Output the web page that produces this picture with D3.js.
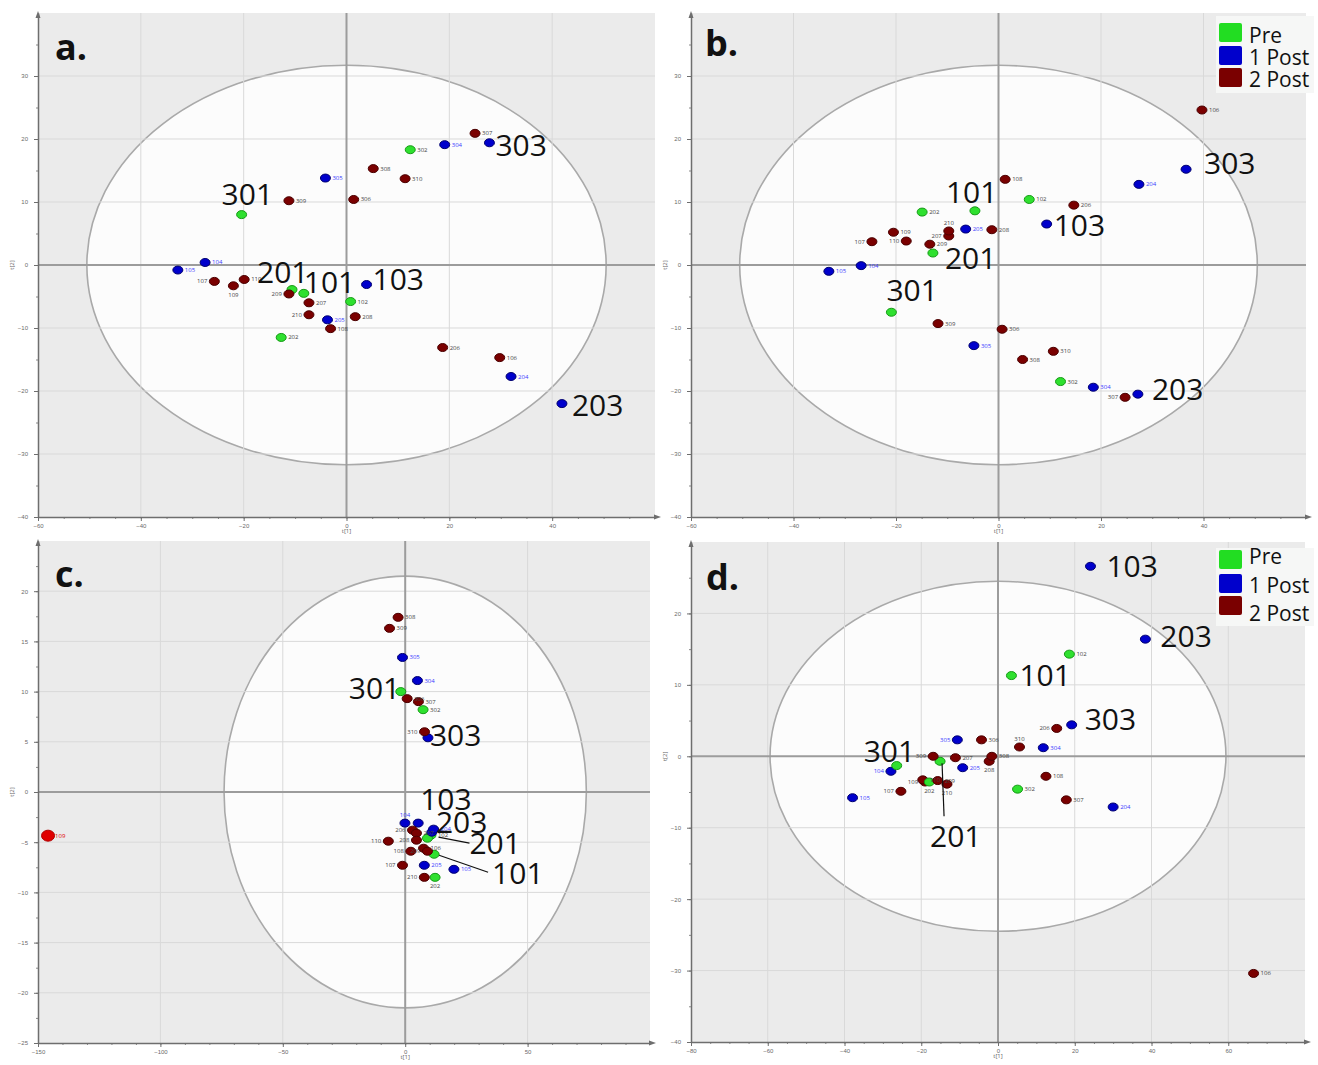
<!DOCTYPE html>
<html>
<head>
	<meta charset="utf-8">
	<title>PCA score plots a-d</title>
	<style>
		body{ margin:0; background:#fff; }
		svg{ display:block; font-family:"Open Sans", sans-serif; }
		.axis path, .axis line{ stroke:#6e6e6e; }
		.axis text{ fill:#6a6a6a; font-size:6px; }
		.minor path{ stroke:none; }
		.minor line{ stroke:#8a8a8a; }
	</style>
</head>
<body>
<script src="https://cdnjs.cloudflare.com/ajax/libs/d3/7.8.5/d3.min.js"></script>
<script>
// samples, same order in every panel
var sampleIds = ["101","102","103","104","105","106","107","108","109","110",
                 "201","202","203","204","205","206","207","208","209","210",
                 "301","302","303","304","305","306","307","308","309","310"];
var groupNames = ["Pre", "1 Post", "2 Post"];
var sampleGroup = ["Pre","Pre","1 Post","1 Post","1 Post","2 Post","2 Post","2 Post","2 Post","2 Post",
                   "Pre","Pre","1 Post","1 Post","1 Post","2 Post","2 Post","2 Post","2 Post","2 Post",
                   "Pre","Pre","1 Post","1 Post","1 Post","2 Post","2 Post","2 Post","2 Post","2 Post"];

// t[1] / t[2] scores
var aX = [-8.3, 0.8, 3.9, -27.5, -32.8, 29.8, -25.7, -3.1, -22.0, -19.9,
          -10.6, -12.7, 41.9, 32.0, -3.7, 18.7, -7.3, 1.7, -11.2, -7.3,
          -20.4, 12.4, 27.8, 19.1, -4.1, 1.4, 25.0, 5.2, -11.2, 11.4];
var aY = [-4.5, -5.8, -3.1, 0.4, -0.8, -14.7, -2.6, -10.1, -3.3, -2.3,
          -3.9, -11.5, -22.0, -17.7, -8.7, -13.1, -6.0, -8.2, -4.6, -7.9,
          8.0, 18.3, 19.4, 19.1, 13.8, 10.4, 20.9, 15.3, 10.2, 13.7];

var bX = [-4.6, 6.0, 9.4, -26.8, -33.1, 39.7, -24.7, 1.3, -20.5, -18.0,
          -12.8, -14.9, 27.2, 27.4, -6.4, 14.7, -9.7, -1.3, -13.4, -9.7,
          -20.9, 12.1, 36.6, 18.5, -4.8, 0.7, 24.7, 4.7, -11.8, 10.7];
var bY = [8.6, 10.4, 6.5, -0.1, -1.0, 24.6, 3.7, 13.6, 5.2, 3.8,
          1.9, 8.4, -20.5, 12.8, 5.7, 9.5, 4.6, 5.6, 3.3, 5.4,
          -7.5, -18.5, 15.2, -19.4, -12.8, -10.2, -21.0, -15.0, -9.3, -13.7];

var cX = [11.8, 10.5, 5.3, -0.1, 19.9, 7.5, -1.1, 2.3, -145.9, -6.9,
          9.1, 12.2, 10.9, 11.6, 7.8, 3.0, 4.6, 4.6, 9.1, 7.8,
          -1.8, 7.3, 9.3, 5.0, -1.1, 0.8, 5.4, -2.9, -6.4, 7.9];
var cY = [-6.2, -4.3, -3.1, -3.1, -7.7, -5.6, -7.3, -5.9, -4.35, -4.9,
          -4.6, -8.5, -4.0, -3.7, -7.3, -3.8, -4.1, -4.8, -5.9, -8.5,
          10.0, 8.2, 5.4, 11.1, 13.4, 9.3, 9.0, 17.4, 16.3, 6.0];

var dX = [3.5, 18.6, 24.1, -27.9, -37.9, 66.6, -25.3, 12.5, -19.0, -19.6,
          -15.1, -17.9, 38.4, 30.0, -9.2, 15.3, -11.1, -2.3, -15.7, -13.3,
          -26.4, 5.1, 19.2, 11.8, -10.6, -4.3, 17.8, -1.6, -16.9, 5.6];
var dY = [11.3, 14.3, 26.6, -2.1, -5.8, -30.4, -4.9, -2.8, -3.6, -3.3,
          -0.7, -3.6, 16.4, -7.1, -1.6, 3.9, -0.2, -0.7, -3.4, -3.9,
          -1.3, -4.6, 4.4, 1.2, 2.3, 2.3, -6.1, 0.0, 0.0, 1.3];

// axis tick labels
var abXTicks = [-60, -40, -20, 0, 20, 40];
var abYTicks = [-40, -30, -20, -10, 0, 10, 20, 30];
var cXTicks = [-150, -100, -50, 0, 50];
var cYTicks = [-25, -20, -15, -10, -5, 0, 5, 10, 15, 20];
var dXTicks = [-80, -60, -40, -20, 0, 20, 40, 60];
var dYTicks = [-40, -30, -20, -10, 0, 10, 20];

var fillColor = { "Pre": "#2fe02f", "1 Post": "#0000cc", "2 Post": "#7a0000" };
var edgeColor = { "Pre": "#169a16", "1 Post": "#00006e", "2 Post": "#4a0000" };

var svg = d3.select("body").append("svg")
	.attr("width", 1318)
	.attr("height", 1065);

var panels = [
	{ letter: "a.", xs: aX, ys: aY, left: 38, right: 655, top: 13, bottom: 517,
	  xDomain: [-60, 60], yDomain: [-40, 40], xTicks: abXTicks, yTicks: abYTicks, xMinor: 5, yMinor: 5,
	  ell: [50.5, 31.7], letterPos: [55, 60],
	  side: { "107": "l", "109": "b", "209": "l", "210": "l" },
	  notes: [ { id: "301", dx: -20, dy: -10 }, { id: "201", dx: -35, dy: -7 }, { id: "101", dx: 0, dy: 0 },
	           { id: "103", dx: 6, dy: 5 }, { id: "303", dx: 6, dy: 13 }, { id: "203", dx: 10, dy: 12 } ],
	  leaders: [], legend: null },
	{ letter: "b.", xs: bX, ys: bY, left: 691, right: 1306, top: 13, bottom: 517,
	  xDomain: [-60, 60], yDomain: [-40, 40], xTicks: abXTicks, yTicks: abYTicks, xMinor: 5, yMinor: 5,
	  ell: [50.5, 31.7], letterPos: [705, 56],
	  side: { "107": "l", "110": "l", "207": "l", "210": "t", "307": "l" },
	  notes: [ { id: "101", dx: -29, dy: -8 }, { id: "201", dx: 12, dy: 16 }, { id: "301", dx: -5, dy: -11 },
	           { id: "303", dx: 18, dy: 5 }, { id: "103", dx: 7, dy: 12 }, { id: "203", dx: 14, dy: 6 } ],
	  leaders: [], legend: { x: 1216, y: 16, w: 98, h: 77, sq: [23, 46, 68], txt: [43, 65, 87] } },
	{ letter: "c.", xs: cX, ys: cY, left: 38, right: 650, top: 541, bottom: 1043,
	  xDomain: [-150, 100], yDomain: [-25, 25], xTicks: cXTicks, yTicks: cYTicks, xMinor: 10, yMinor: 2.5,
	  ell: [74, 21.5], letterPos: [55, 587], highlight: "109",
	  side: { "206": "l", "208": "l", "110": "l", "108": "l", "107": "l", "210": "l", "209": "l",
	          "202": "b", "104": "t", "310": "l" },
	  notes: [ { id: "301", dx: -52, dy: 7 }, { id: "303", dx: 2, dy: 8 }, { id: "103", dx: 2, dy: -13 },
	           { id: "203", dx: 4, dy: 1 }, { id: "201", dx: 42, dy: 16 }, { id: "101", dx: 58, dy: 30 } ],
	  leaders: [ { id: "201", x1: 11, y1: -1, x2: 42, y2: 5 }, { id: "101", x1: 5, y1: 1, x2: 54, y2: 18 } ],
	  legend: null },
	{ letter: "d.", xs: dX, ys: dY, left: 691, right: 1305, top: 542, bottom: 1042,
	  xDomain: [-80, 80], yDomain: [-40, 30], xTicks: dXTicks, yTicks: dYTicks, xMinor: 5, yMinor: 5,
	  ell: [59.4, 24.5], letterPos: [706, 590],
	  side: { "305": "l", "309": "l", "206": "l", "109": "l", "107": "l", "310": "t", "208": "b",
	          "202": "b", "210": "b", "104": "l" },
	  notes: [ { id: "103", dx: 16, dy: 11 }, { id: "203", dx: 15, dy: 8 }, { id: "101", dx: 8, dy: 10 },
	           { id: "303", dx: 13, dy: 5 }, { id: "301", dx: -33, dy: -4 }, { id: "201", dx: -10, dy: 86 } ],
	  leaders: [ { id: "201", x1: 2, y1: 2, x2: 4, y2: 55 } ],
	  legend: { x: 1216, y: 548, w: 98, h: 78, sq: [550, 574, 596], txt: [564, 593, 621] } }
];

function range(a, b, step) {
	return d3.range(a, b + step / 2, step);
}

panels.forEach(function(p) {
	var g = svg.append("g");
	var x = d3.scaleLinear().domain(p.xDomain).range([p.left, p.right]);
	var y = d3.scaleLinear().domain(p.yDomain).range([p.bottom, p.top]);
	var noted = p.notes.map(function(n){ return n.id; });

	// plot background
	g.append("rect")
	 .attr("x", p.left)
	 .attr("y", p.top)
	 .attr("width", p.right - p.left)
	 .attr("height", p.bottom - p.top)
	 .style("fill", "#ebebeb");

	// Hotelling ellipse
	g.append("ellipse")
	 .attr("cx", x(0))
	 .attr("cy", y(0))
	 .attr("rx", x(p.ell[0]) - x(0))
	 .attr("ry", y(0) - y(p.ell[1]))
	 .style("fill", "#fcfcfc")
	 .style("stroke", "#a9a9a9")
	 .style("stroke-width", 1.6);

	// grid
	g.selectAll("line.vg")
	 .data(p.xTicks.filter(function(v){ return v !== 0 && v !== p.xDomain[0]; }))
	 .enter().append("line")
	 .attr("x1", function(d){ return x(d); })
	 .attr("x2", function(d){ return x(d); })
	 .attr("y1", p.top)
	 .attr("y2", p.bottom)
	 .style("stroke", "#d9d9d9");
	g.selectAll("line.hg")
	 .data(p.yTicks.filter(function(v){ return v !== 0 && v !== p.yDomain[0]; }))
	 .enter().append("line")
	 .attr("y1", function(d){ return y(d); })
	 .attr("y2", function(d){ return y(d); })
	 .attr("x1", p.left)
	 .attr("x2", p.right)
	 .style("stroke", "#d9d9d9");

	// zero lines
	g.append("line")
	 .attr("x1", x(0)).attr("x2", x(0))
	 .attr("y1", p.top).attr("y2", p.bottom)
	 .style("stroke", "#9c9c9c").style("stroke-width", 2);
	g.append("line")
	 .attr("y1", y(0)).attr("y2", y(0))
	 .attr("x1", p.left).attr("x2", p.right)
	 .style("stroke", "#9c9c9c").style("stroke-width", 2);

	// minor ticks
	g.append("g")
	 .attr("class", "minor")
	 .attr("transform", "translate(0," + p.bottom + ")")
	 .call(d3.axisBottom(x).tickValues(range(p.xDomain[0], p.xDomain[1] - p.xMinor, p.xMinor)).tickSize(2).tickFormat(""));
	g.append("g")
	 .attr("class", "minor")
	 .attr("transform", "translate(" + p.left + ",0)")
	 .call(d3.axisLeft(y).tickValues(range(p.yDomain[0], p.yDomain[1] - p.yMinor, p.yMinor)).tickSize(2).tickFormat(""));

	// axes
	var xAxis = d3.axisBottom(x).tickValues(p.xTicks).tickSize(4).tickSizeOuter(0).tickPadding(3);
	var yAxis = d3.axisLeft(y).tickValues(p.yTicks).tickSize(4).tickSizeOuter(0).tickPadding(6);
	g.append("g")
	 .attr("class", "axis")
	 .attr("transform", "translate(0," + p.bottom + ")")
	 .call(xAxis)
	 .select("path").style("stroke-width", 1.5);
	g.append("g")
	 .attr("class", "axis")
	 .attr("transform", "translate(" + p.left + ",0)")
	 .call(yAxis)
	 .select("path").style("stroke-width", 1.5);

	// arrow heads
	g.append("path")
	 .attr("d", "M" + (p.right + 6) + "," + p.bottom + "l-7,-2.5v5z")
	 .style("fill", "#6e6e6e");
	g.append("path")
	 .attr("d", "M" + p.left + "," + (p.top - 2) + "l-2.5,7h5z")
	 .style("fill", "#6e6e6e");

	// axis titles
	g.append("text")
	 .attr("x", x(0))
	 .attr("y", p.bottom + 16)
	 .style("text-anchor", "middle")
	 .style("font-size", "6px")
	 .style("fill", "#666")
	 .text("t[1]");
	g.append("text")
	 .attr("transform", "translate(" + (p.left - 24) + "," + y(0) + ") rotate(-90)")
	 .style("text-anchor", "middle")
	 .style("font-size", "6px")
	 .style("fill", "#666")
	 .text("t[2]");

	// points
	var pts = sampleIds.map(function(id, i){
		return { id: id, group: sampleGroup[i], x: p.xs[i], y: p.ys[i] };
	});
	g.selectAll("ellipse.pt")
	 .data(pts)
	 .enter().append("ellipse")
	 .attr("cx", function(d){ return x(d.x); })
	 .attr("cy", function(d){ return y(d.y); })
	 .attr("rx", function(d){ return d.id === p.highlight ? 6.5 : 5; })
	 .attr("ry", function(d){ return d.id === p.highlight ? 5.5 : 4; })
	 .style("fill", function(d){ return d.id === p.highlight ? "#e00000" : fillColor[d.group]; })
	 .style("stroke", function(d){ return d.id === p.highlight ? "#b00000" : edgeColor[d.group]; })
	 .style("stroke-width", 1);

	// small id labels (hidden under the big callouts in the original)
	g.selectAll("text.pl")
	 .data(pts.filter(function(d){ return noted.indexOf(d.id) < 0; }))
	 .enter().append("text")
	 .attr("x", function(d){
		var s = p.side[d.id];
		if (s === "l") return x(d.x) - 7;
		if (s === "b" || s === "t") return x(d.x);
		return x(d.x) + 7;
	 })
	 .attr("y", function(d){
		var s = p.side[d.id];
		if (s === "b") return y(d.y) + 11;
		if (s === "t") return y(d.y) - 6;
		return y(d.y) + 2;
	 })
	 .style("text-anchor", function(d){
		var s = p.side[d.id];
		if (s === "l") return "end";
		if (s === "b" || s === "t") return "middle";
		return "start";
	 })
	 .style("font-size", "6px")
	 .style("fill", function(d){
		if (d.id === p.highlight) return "#e00000";
		return d.group === "1 Post" ? "#3b3bff" : "#444";
	 })
	 .text(function(d){ return d.id; });

	function pos(id) {
		var i = sampleIds.indexOf(id);
		return [x(p.xs[i]), y(p.ys[i])];
	}

	// leader lines
	p.leaders.forEach(function(l){
		var c = pos(l.id);
		g.append("line")
		 .attr("x1", c[0] + l.x1).attr("y1", c[1] + l.y1)
		 .attr("x2", c[0] + l.x2).attr("y2", c[1] + l.y2)
		 .style("stroke", "#111")
		 .style("stroke-width", 1.2);
	});

	// big callouts
	p.notes.forEach(function(n){
		var c = pos(n.id);
		g.append("text")
		 .attr("x", c[0] + n.dx)
		 .attr("y", c[1] + n.dy)
		 .style("font-size", "30px")
		 .style("fill", "#111")
		 .text(n.id);
	});

	// panel letter
	g.append("text")
	 .attr("x", p.letterPos[0])
	 .attr("y", p.letterPos[1])
	 .style("font-size", "36px")
	 .style("font-weight", "bold")
	 .style("fill", "#111")
	 .text(p.letter);

	// legend
	if (p.legend) {
		var L = p.legend;
		g.append("rect")
		 .attr("x", L.x).attr("y", L.y)
		 .attr("width", L.w).attr("height", L.h)
		 .style("fill", "#f6f7f6");
		groupNames.forEach(function(name, i){
			g.append("rect")
			 .attr("x", L.x + 3).attr("y", L.sq[i])
			 .attr("width", 23).attr("height", 19)
			 .attr("rx", 2)
			 .style("fill", name === "Pre" ? "#22dd22" : fillColor[name]);
			g.append("text")
			 .attr("x", L.x + 33).attr("y", L.txt[i])
			 .style("font-size", "21px")
			 .style("fill", "#111")
			 .text(name);
		});
	}
});
</script>
</body>
</html>
